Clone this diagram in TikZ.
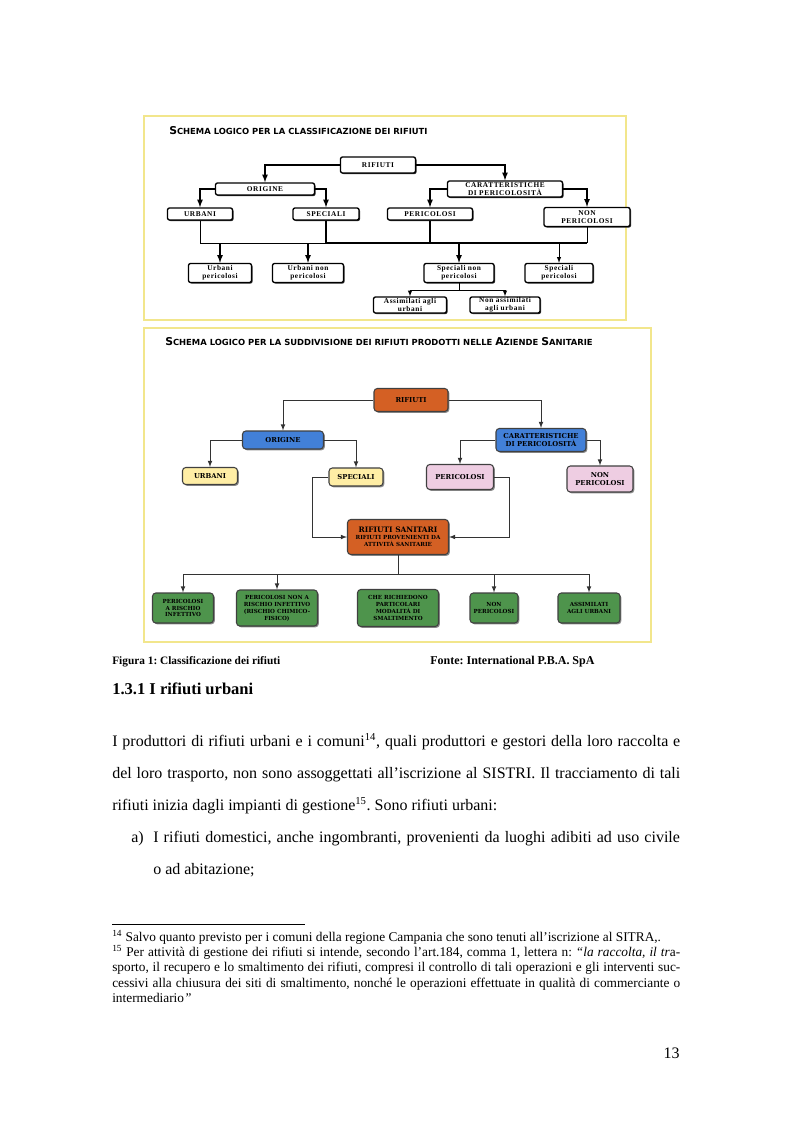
\documentclass[tikz,border=0pt]{standalone}
\usepackage{fontspec}
\setmainfont{Liberation Serif}
\newfontfamily\boxfont[LetterSpace=8]{Liberation Serif}
\newfontfamily\capsfont{DejaVu Serif}
\newfontfamily\titlefont{DejaVu Sans}
\usetikzlibrary{shadows}
\definecolor{frameyellow}{RGB}{242,230,140}
\definecolor{boxorange}{RGB}{212,96,36}
\definecolor{boxblue}{RGB}{66,128,216}
\definecolor{boxyellow}{RGB}{255,238,165}
\definecolor{boxpink}{RGB}{238,205,226}
\definecolor{boxgreen}{RGB}{78,148,76}
\newcommand{\ini}[1]{{\fontsize{8.1}{8}\selectfont #1}}
\newcommand{\bigline}[1]{{\fontsize{5.6}{6}\selectfont #1}}
\tikzset{
  sz/.style 2 args={minimum width=#1*0.75pt, minimum height=#2*0.75pt},
  wbox/.style={draw=black, line width=1pt, rounded corners=1.5pt, fill=white,
    align=center, inner sep=0pt, font=\boxfont\bfseries\fontsize{5.5}{6.2}\selectfont,
    drop shadow={shadow xshift=0.8pt, shadow yshift=-0.8pt, fill=black!80, opacity=1}},
  cbox/.style={draw=black!75, line width=0.8pt, rounded corners=2.5pt,
    align=center, inner sep=0pt, font=\capsfont\bfseries\fontsize{4.2}{5.2}\selectfont,
    drop shadow={shadow xshift=1pt, shadow yshift=-1pt, fill=black!45, opacity=1}},
  upper/.style={font=\capsfont\bfseries\fontsize{5.1}{6}\selectfont},
  link/.style={draw=black!80, line width=0.6pt},
  title/.style={anchor=base west, inner sep=0pt, font=\titlefont\bfseries\fontsize{6.3}{7}\selectfont}
}

\begin{document}
\frenchspacing
\begin{tikzpicture}[x=0.75pt,y=-0.75pt,>=latex]
\useasboundingbox[fill=white] (0,0) rectangle (794,1123);

% first scheme
\draw[frameyellow, line width=1.5pt] (144,116) rectangle (626,320);
\node[title] (titleA) at (169,135) {\ini{S}CHEMA LOGICO PER LA CLASSIFICAZIONE DEI RIFIUTI};

\node[wbox, sz={75}{16}] (rif) at (378,165) {RIFIUTI};
\node[wbox, sz={99}{12}] (ori) at (265,189) {ORIGINE};
\node[wbox, sz={115}{16}] (car) at (505,189) {CARATTERISTICHE\\DI PERICOLOSITÀ};
\node[wbox, sz={65}{12}] (urb) at (200,214) {URBANI};
\node[wbox, sz={66}{12}] (spe) at (326,214) {SPECIALI};
\node[wbox, sz={85}{12}] (per) at (430,214) {PERICOLOSI};
\node[wbox, sz={86}{19}] (nonper) at (587,217) {NON\\PERICOLOSI};
\node[wbox, sz={63}{19}] (urbper) at (220,273) {Urbani\\pericolosi};
\node[wbox, sz={71}{19}] (urbnon) at (308,273) {Urbani non\\pericolosi};
\node[wbox, sz={70}{19}] (spenon) at (459,273) {Speciali non\\pericolosi};
\node[wbox, sz={68}{19}] (speper) at (559,273) {Speciali\\pericolosi};
\node[wbox, sz={73}{16}] (assim) at (410,305) {Assimilati agli\\urbani};
\node[wbox, sz={70}{16}] (nonassim) at (505,305) {Non assimilati\\agli urbani};

\draw[->, line width=1pt] (rif.west) -| (ori.north);
\draw[->, line width=1pt] (rif.east) -| (car.north);
\draw[->, line width=1pt] (ori.west) -| (urb.north);
\draw[->, line width=1pt] (ori.east) -| (spe.north);
\draw[->, line width=1pt] (car.west) -| (per.north);
\draw[->, line width=1pt] (car.east) -| (nonper.north);
\coordinate (bus) at (0,243);
\draw[line width=0.5pt] (urb.south) |- (spe.south |- bus);
\draw[line width=1pt] (spe.south) -- (spe.south |- bus) -- (nonper.south |- bus);
\draw[line width=1pt] (per.south) -- (per.south |- bus);
\draw[line width=0.5pt] (nonper.south) -- (nonper.south |- bus);
\foreach \n in {urbper,urbnon,spenon}
  \draw[->, line width=1pt] (\n.north |- bus) -- (\n.north);
\draw[->, line width=0.5pt] (speper.north |- bus) -- (speper.north);
\coordinate (split) at (0,290);
\draw[line width=0.5pt] (spenon.south) -- (spenon.south |- split);
\draw[->, line width=0.5pt] (spenon.south |- split) -| (assim.north);
\draw[->, line width=0.5pt] (spenon.south |- split) -| (nonassim.north);

% second scheme
\draw[frameyellow, line width=1.5pt] (144,328) rectangle (651,642);
\node[title] (titleB) at (165,345) {\ini{S}CHEMA LOGICO PER LA SUDDIVISIONE DEI RIFIUTI PRODOTTI NELLE \ini{A}ZIENDE \ini{S}ANITARIE};

\node[cbox, upper, fill=boxorange, sz={74}{23}] (rifS) at (411,400) {RIFIUTI};
\node[cbox, upper, fill=boxblue, sz={81}{18}] (oriS) at (283,440) {ORIGINE};
\node[cbox, upper, fill=boxblue, sz={90}{23}] (carS) at (541,440) {CARATTERISTICHE\\DI PERICOLOSITÀ};
\node[cbox, upper, fill=boxyellow, sz={55}{17}] (urbS) at (210,476) {URBANI};
\node[cbox, upper, fill=boxyellow, sz={54}{18}] (speS) at (356,477) {SPECIALI};
\node[cbox, upper, fill=boxpink, sz={67}{25}] (perS) at (460,477) {PERICOLOSI};
\node[cbox, upper, fill=boxpink, sz={66}{26}] (nonS) at (600,479) {NON\\PERICOLOSI};
\node[cbox, fill=boxorange, sz={101}{35}] (san) at (398,537) {\bigline{RIFIUTI SANITARI}\\RIFIUTI PROVENIENTI DA\\ATTIVITÀ SANITARIE};
\node[cbox, fill=boxgreen, sz={61}{30}] (ga) at (183,608) {PERICOLOSI\\A RISCHIO\\INFETTIVO};
\node[cbox, fill=boxgreen, sz={81}{36}] (gb) at (277,608) {PERICOLOSI NON A\\RISCHIO INFETTIVO\\(RISCHIO CHIMICO-\\FISICO)};
\node[cbox, fill=boxgreen, sz={81}{37}] (gc) at (398,608) {CHE RICHIEDONO\\PARTICOLARI\\MODALITÀ DI\\SMALTIMENTO};
\node[cbox, fill=boxgreen, sz={48}{30}] (gd) at (494,608) {NON\\PERICOLOSI};
\node[cbox, fill=boxgreen, sz={62}{30}] (ge) at (589,608) {ASSIMILATI\\AGLI URBANI};

\draw[->, link] (rifS.west) -| (oriS.north);
\draw[->, link] (rifS.east) -| (carS.north);
\draw[->, link] (oriS.west) -| (urbS.north);
\draw[->, link] (oriS.east) -| (speS.north);
\draw[->, link] (carS.west) -| (perS.north);
\draw[->, link] (carS.east) -| (nonS.north);
\draw[->, link] (speS.west) -- ++(-16,0) |- (san.west);
\draw[->, link] (perS.east) -- ++(15,0) |- (san.east);
\coordinate (busS) at (0,574);
\draw[link] (san.south) -- (san.south |- busS);
\draw[link] (ga.north |- busS) -- (ge.north |- busS);
\foreach \n in {ga,gb,gd,ge}
  \draw[->, link] (\n.north |- busS) -- (\n.north);

% text of the page
\node[anchor=base west, inner sep=0pt, font=\bfseries\fontsize{8.5}{11}\selectfont] (caption) at (112,664) {Figura 1: Classificazione dei rifiuti};
\node[anchor=base west, inner sep=0pt, font=\bfseries\fontsize{9}{11}\selectfont] (source) at (430,664) {Fonte: International P.B.A. SpA};
\node[anchor=base west, inner sep=0pt, font=\bfseries\fontsize{12.4}{14}\selectfont] (section) at (112,694) {1.3.1 I rifiuti urbani};
\node[anchor=base west, inner sep=0pt, text width=426pt, align=justify, font=\fontsize{12}{24}\selectfont] (body) at (112,746)
  {I produttori di rifiuti urbani e i comuni\textsuperscript{14}, quali produttori e gestori della loro raccolta e\linebreak
   del loro trasporto, non sono assoggettati all’iscrizione al SISTRI. Il tracciamento di tali\linebreak
   rifiuti inizia dagli impianti di gestione\textsuperscript{15}. Sono rifiuti urbani:};
\node[anchor=base west, inner sep=0pt, font=\fontsize{12}{24}\selectfont] (itema) at (131,842) {a)};
\node[anchor=base west, inner sep=0pt, text width=395pt, align=justify, font=\fontsize{12}{24}\selectfont] (itemtext) at (153,842)
  {I rifiuti domestici, anche ingombranti, provenienti da luoghi adibiti ad uso civile\linebreak o ad abitazione;};
\draw[line width=0.6pt] (112,924) -- (305,924);
\node[anchor=base west, inner sep=0pt, text width=426pt, align=justify, font=\fontsize{10}{11.6}\selectfont] (notes) at (112,941)
  {\textsuperscript{14} Salvo quanto previsto per i comuni della regione Campania che sono tenuti all’iscrizione al SITRA,.\\
   \textsuperscript{15} Per attività di gestione dei rifiuti si intende, secondo l’art.184, comma 1, lettera n: \textit{“la raccolta, il tr}a-\linebreak
   sporto, il recupero e lo smaltimento dei rifiuti, compresi il controllo di tali operazioni e gli interventi suc-\linebreak
   cessivi alla chiusura dei siti di smaltimento, nonché le operazioni effettuate in qualità di commerciante o\linebreak
   intermediario\textit{”}};
\node[anchor=base east, inner sep=0pt, font=\fontsize{12}{14}\selectfont] (page) at (680,1058) {13};
\end{tikzpicture}
\end{document}
